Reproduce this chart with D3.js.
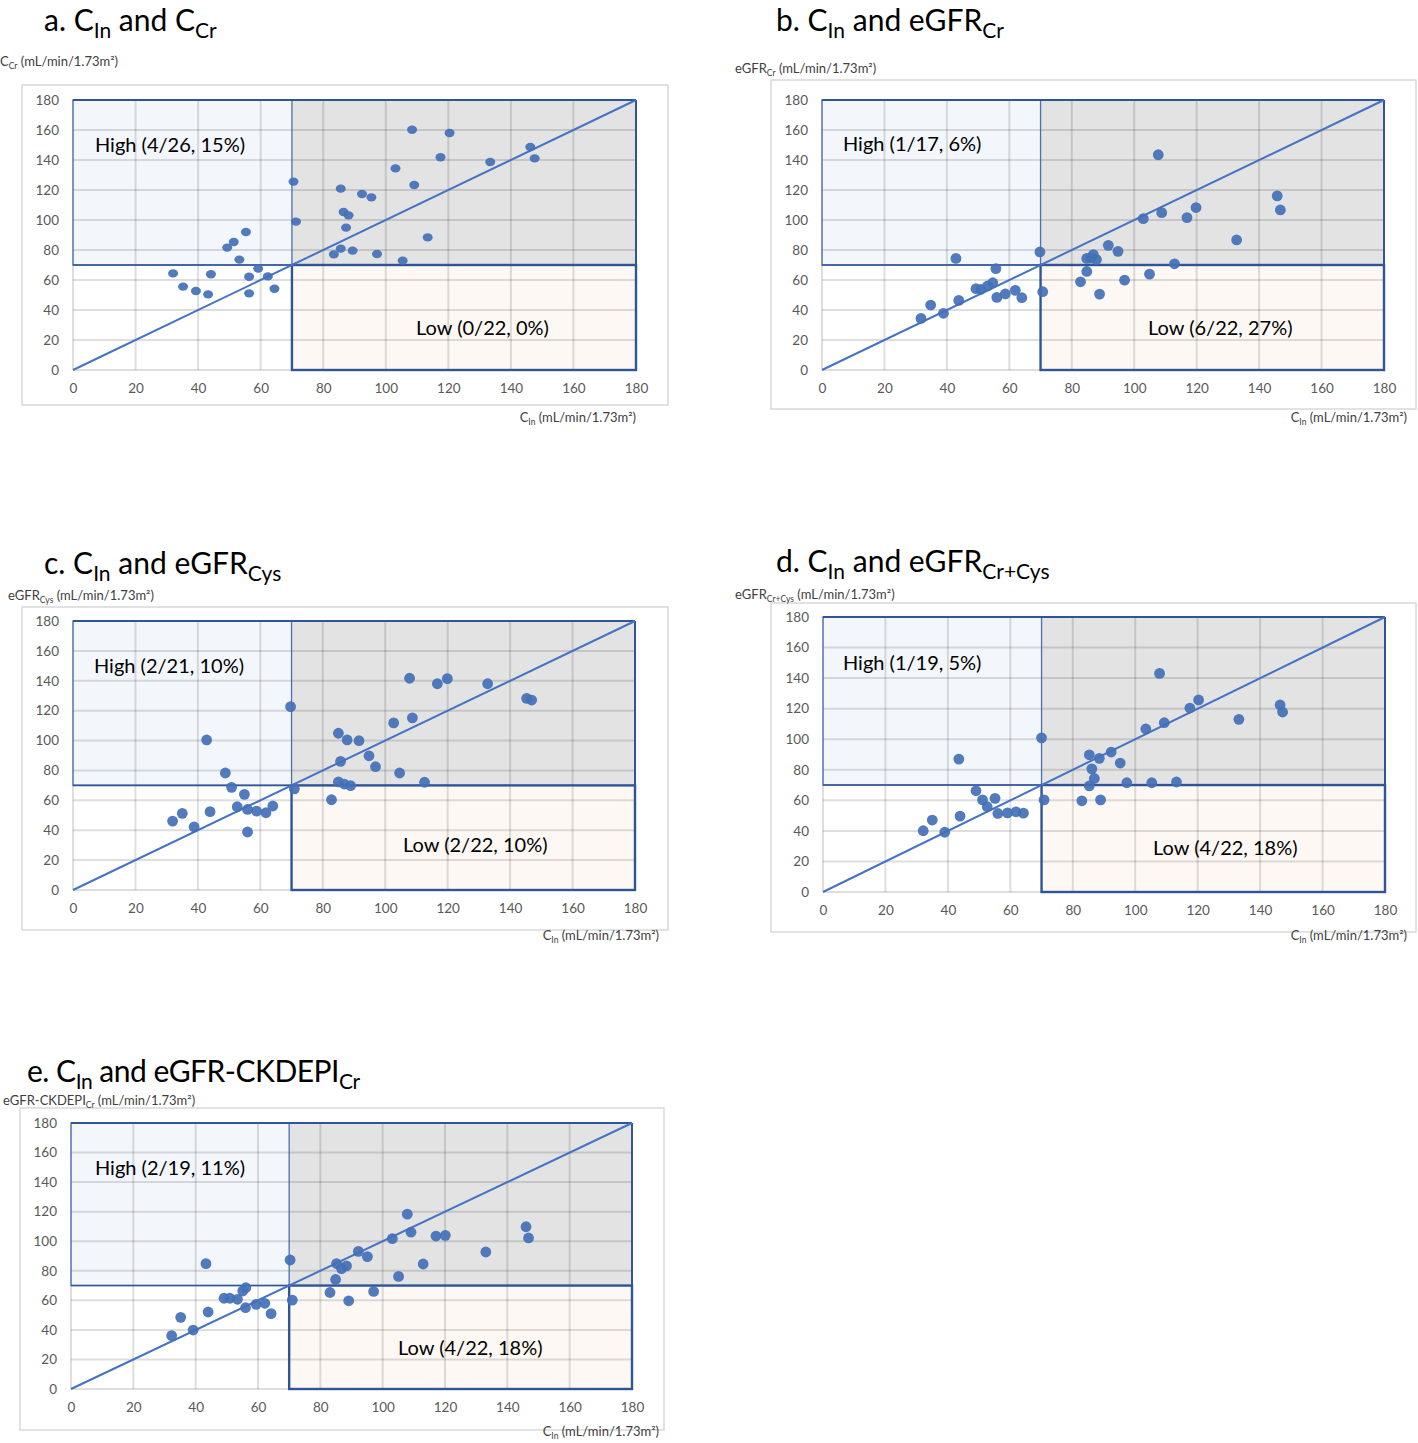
<!DOCTYPE html>
<html>
<head>
<meta charset="utf-8">
<script src="https://cdn.jsdelivr.net/npm/d3@7"></script>
<style>
  html, body { margin: 0; padding: 0; background: #ffffff; }
  svg { display: block; font-family: Lato, "Open Sans", sans-serif; }
</style>
</head>
<body>
<svg id="chart" width="1418" height="1443"></svg>
<script>
// ---------------- DATA ----------------
const axisTicks = [0, 20, 40, 60, 80, 100, 120, 140, 160, 180];
const cutoff = 70;

// a. C_In vs C_Cr
const cinA = [32.0,35.2,39.3,43.2,44.1,49.3,51.4,55.3,53.2,56.3,56.3,59.2,62.3,64.4,70.5,71.3,85.6,86.5,88.1,87.3,85.6,83.4,89.4,92.4,95.4,97.2,105.4,103.1,109.1,108.4,120.4,117.5,113.4,133.4,146.2,147.6];
const ccrA = [64.4,55.6,52.7,50.4,63.8,81.6,85.3,92.0,73.6,62.2,51.1,67.6,62.4,54.2,125.6,98.9,120.9,105.3,103.1,94.9,80.9,77.1,79.6,117.3,115.1,77.3,72.9,134.4,123.3,160.2,158.0,141.8,88.4,138.7,148.7,141.1];

// b. C_In vs eGFR_Cr
const cinB = [31.7,34.8,38.9,43.8,42.9,49.3,50.9,53.0,54.7,55.7,56.0,58.7,61.9,64.0,69.8,70.7,82.8,84.8,84.8,86.9,87.9,86.1,88.9,91.7,94.8,96.9,102.9,104.9,107.7,108.8,112.9,116.9,119.8,132.8,145.8,146.8];
const egfrCrB = [34.4,43.3,37.8,46.4,74.4,54.2,53.8,56.0,58.2,67.6,48.4,50.7,53.1,48.2,78.7,52.2,58.8,65.7,74.4,76.9,73.7,74.6,50.6,83.1,79.1,59.9,100.9,63.9,143.5,104.9,70.8,101.6,108.3,86.7,116.1,106.7];

// c. C_In vs eGFR_Cys
const cinC = [31.9,35.0,38.8,43.9,42.8,48.8,50.8,54.9,52.6,55.9,58.8,61.8,64.0,55.9,69.7,70.9,82.8,85.0,87.8,91.6,85.7,94.8,96.9,85.0,86.9,88.9,104.6,112.6,102.7,108.7,107.8,116.7,119.9,132.8,145.3,146.9];
const egfrCysC = [46.1,51.3,42.2,52.4,100.4,78.3,68.7,64.0,55.7,53.9,52.8,51.7,56.2,38.8,122.7,67.7,60.4,104.9,100.4,99.9,86.1,89.8,82.5,72.3,70.9,69.8,78.3,72.1,111.8,115.2,141.7,138.0,141.4,138.0,128.2,127.1];

// d. C_In vs eGFR_Cr+Cys
const cinD = [32.1,35.0,39.0,43.9,43.5,49.0,51.1,55.1,52.6,56.0,59.1,61.8,64.2,70.0,70.8,82.9,88.9,85.3,88.5,92.3,86.1,86.9,85.3,95.2,97.3,105.3,113.2,103.4,109.3,117.5,120.3,107.8,133.2,146.4,147.2];
const egfrCrCysD = [40.1,47.1,39.1,49.7,87.0,66.3,60.3,61.3,55.8,51.4,51.8,52.5,51.6,100.9,60.3,59.7,60.3,89.8,87.5,91.6,80.6,74.3,69.4,84.4,71.5,71.5,72.0,106.7,110.8,120.4,125.7,143.1,113.0,122.4,117.8];

// e. C_In vs eGFR-CKDEPI_Cr
const cinE = [32.3,35.2,39.2,44.0,43.3,49.1,51.0,53.4,55.1,56.1,56.0,59.4,62.2,64.2,70.3,71.0,83.1,89.1,97.1,84.9,85.2,86.8,88.4,92.2,95.1,103.1,109.1,107.9,117.1,120.1,105.1,113.0,133.1,146.0,146.8];
const ckdepiE = [36.1,48.5,39.9,52.1,84.8,61.4,61.4,60.7,66.3,68.5,55.0,57.3,58.0,51.0,87.3,60.1,65.3,59.7,66.0,74.1,84.9,81.5,83.3,93.1,89.6,101.8,106.1,118.3,103.5,104.0,76.2,84.6,92.7,109.8,102.2];

// texts
const panelLetters = ["a.", "b.", "c.", "d.", "e."];
const titleMain = ["C", "C", "C", "C", "C"];
const titleTail = [" and C", " and eGFR", " and eGFR", " and eGFR", " and eGFR-CKDEPI"];
const titleTailSub = ["Cr", "Cr", "Cys", "Cr+Cys", "Cr"];
const yTitleMain = ["C", "eGFR", "eGFR", "eGFR", "eGFR-CKDEPI"];
const yTitleSub = ["Cr", "Cr", "Cys", "Cr+Cys", "Cr"];
const unitText = " (mL/min/1.73m²)";
const highLabels = ["High (4/26, 15%)", "High (1/17, 6%)", "High (2/21, 10%)", "High (1/19, 5%)", "High (2/19, 11%)"];
const lowLabels = ["Low (0/22, 0%)", "Low (6/22, 27%)", "Low (2/22, 10%)", "Low (4/22, 18%)", "Low (4/22, 18%)"];

const seriesX = [cinA, cinB, cinC, cinD, cinE];
const seriesY = [ccrA, egfrCrB, egfrCysC, egfrCrCysD, ckdepiE];

// ---------------- LAYOUT ----------------
const layouts = [
  { frame:[22,85,668,405],  plot:[73,100,636,370],  title:[44,31],   yt:[0,66],    xtEnd:[636,422],  high:[95,152],  low:[416,335], rx:5, ry:4.2, tw:null },
  { frame:[771,80,1416,409], plot:[822,100,1384,370], title:[776,31], yt:[735,73],  xtEnd:[1407,422], high:[843,151], low:[1148,335], rx:5.4, ry:5.4, tw:null },
  { frame:[22,607,668,930], plot:[73,621,635,890],  title:[44,574],  yt:[8,600],   xtEnd:[659,940],  high:[94,673],  low:[403,852], rx:5.4, ry:5.4, tw:null },
  { frame:[771,603,1416,932], plot:[823,617,1385,892], title:[776,572], yt:[735,599], xtEnd:[1407,940], high:[843,670], low:[1153,855], rx:5.4, ry:5.4, tw:null },
  { frame:[20,1108,664,1430], plot:[71,1123,632,1389], title:[27,1082], yt:[3,1105], xtEnd:[659,1436], high:[95,1175], low:[398,1355], rx:5.4, ry:5.4, tw:-0.5 }
];

const svg = d3.select("#chart");

function drawPanel(i) {
  const L = layouts[i];
  const xs = seriesX[i], ys = seriesY[i];
  const g = svg.append("g");

  // frame
  g.append("rect")
    .attr("x", L.frame[0]).attr("y", L.frame[1])
    .attr("width", L.frame[2]-L.frame[0]).attr("height", L.frame[3]-L.frame[1])
    .attr("fill", "#ffffff").attr("stroke", "#d9d9d9").attr("stroke-width", 1.5);

  const x = d3.scaleLinear().domain([0,180]).range([L.plot[0], L.plot[2]]);
  const y = d3.scaleLinear().domain([0,180]).range([L.plot[3], L.plot[1]]);

  // quadrant fills
  g.append("rect").attr("x", x(0)).attr("y", y(180)).attr("width", x(cutoff)-x(0)).attr("height", y(cutoff)-y(180)).attr("fill", "#f3f6fb");
  g.append("rect").attr("x", x(cutoff)).attr("y", y(180)).attr("width", x(180)-x(cutoff)).attr("height", y(cutoff)-y(180)).attr("fill", "#e3e3e3");
  g.append("rect").attr("x", x(cutoff)).attr("y", y(cutoff)).attr("width", x(180)-x(cutoff)).attr("height", y(0)-y(cutoff)).attr("fill", "#fdf8f3");

  // gridlines
  g.append("g").selectAll("line.v").data(axisTicks).join("line")
    .attr("x1", d => x(d)).attr("x2", d => x(d)).attr("y1", y(0)).attr("y2", y(180))
    .attr("stroke", "rgba(0,0,0,0.13)").attr("stroke-width", 2);
  g.append("g").selectAll("line.h").data(axisTicks).join("line")
    .attr("y1", d => y(d)).attr("y2", d => y(d)).attr("x1", x(0)).attr("x2", x(180))
    .attr("stroke", "rgba(0,0,0,0.13)").attr("stroke-width", 2);

  // quadrant borders
  g.append("rect").attr("x", x(0)).attr("y", y(180)).attr("width", x(cutoff)-x(0)).attr("height", y(cutoff)-y(180))
    .attr("fill", "none").attr("stroke", "#4a6fb5").attr("stroke-width", 1.3);
  g.append("line").attr("x1", x(0)).attr("x2", x(180)).attr("y1", y(180)).attr("y2", y(180))
    .attr("stroke", "#2f5597").attr("stroke-width", 2);
  g.append("line").attr("x1", x(180)).attr("x2", x(180)).attr("y1", y(180)).attr("y2", y(cutoff))
    .attr("stroke", "#2f5597").attr("stroke-width", 2);
  g.append("line").attr("x1", x(0)).attr("x2", x(cutoff)).attr("y1", y(cutoff)).attr("y2", y(cutoff))
    .attr("stroke", "#2f5597").attr("stroke-width", 1.6);
  g.append("rect").attr("x", x(cutoff)).attr("y", y(cutoff)).attr("width", x(180)-x(cutoff)).attr("height", y(0)-y(cutoff))
    .attr("fill", "none").attr("stroke", "#2f5597").attr("stroke-width", 2.4);

  // identity line
  g.append("line").attr("x1", x(0)).attr("y1", y(0)).attr("x2", x(180)).attr("y2", y(180))
    .attr("stroke", "#4472c4").attr("stroke-width", 2);

  // axes
  const ax = g.append("g").attr("transform", `translate(0,${y(0)})`)
    .call(d3.axisBottom(x).tickValues(axisTicks).tickSize(0).tickPadding(13));
  const ay = g.append("g").attr("transform", `translate(${x(0)},0)`)
    .call(d3.axisLeft(y).tickValues(axisTicks).tickSize(0).tickPadding(14));
  [ax, ay].forEach(a => {
    a.select(".domain").remove();
    a.selectAll("text").attr("fill", "#595959").style("font-size", "13.5px").style("font-family", "Lato, sans-serif");
  });

  // points
  g.append("g").selectAll("ellipse").data(xs.map((v, k) => [v, ys[k]])).join("ellipse")
    .attr("cx", d => x(d[0])).attr("cy", d => y(d[1]))
    .attr("rx", L.rx).attr("ry", L.ry)
    .attr("fill", "#4270b6").attr("fill-opacity", 0.92);

  // quadrant labels
  g.append("text").attr("x", L.high[0]).attr("y", L.high[1]).text(highLabels[i])
    .attr("fill", "#000").style("font-size", "20px");
  g.append("text").attr("x", L.low[0]).attr("y", L.low[1]).text(lowLabels[i])
    .attr("fill", "#000").style("font-size", "20px");

  // panel title
  const t = g.append("text").attr("x", L.title[0]).attr("y", L.title[1]).attr("fill", "#000")
    .style("font-size", "30px");
  if (L.tw !== null) t.style("letter-spacing", L.tw + "px");
  t.append("tspan").text(panelLetters[i] + " ");
  t.append("tspan").text(titleMain[i]);
  t.append("tspan").text("In").attr("dy", 7).style("font-size", "21px");
  t.append("tspan").text(titleTail[i]).attr("dy", -7);
  t.append("tspan").text(titleTailSub[i]).attr("dy", 7).style("font-size", "21px");

  // y axis title
  const yt = g.append("text").attr("x", L.yt[0]).attr("y", L.yt[1]).attr("fill", "#404040").style("font-size", "13px");
  yt.append("tspan").text(yTitleMain[i]);
  yt.append("tspan").text(yTitleSub[i]).attr("dy", 3).style("font-size", "8.5px");
  yt.append("tspan").text(unitText).attr("dy", -3);

  // x axis title
  const xt = g.append("text").attr("x", L.xtEnd[0]).attr("y", L.xtEnd[1]).attr("text-anchor", "end").attr("fill", "#404040").style("font-size", "13px");
  xt.append("tspan").text("C");
  xt.append("tspan").text("In").attr("dy", 2.5).style("font-size", "8.5px");
  xt.append("tspan").text(unitText).attr("dy", -2.5);
}

for (let i = 0; i < 5; i++) drawPanel(i);
</script>
</body>
</html>
